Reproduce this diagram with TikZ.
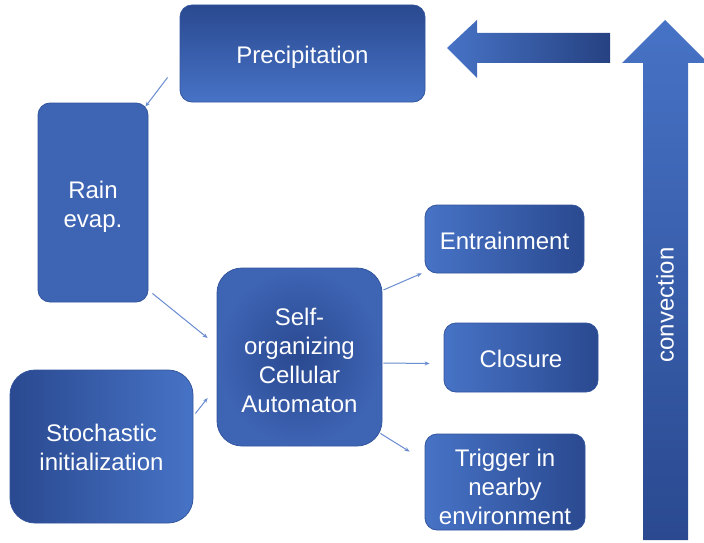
\documentclass[tikz,border=0pt]{standalone}
\usepackage{fontspec}
\setmainfont{Liberation Sans}
\usetikzlibrary{arrows.meta}
\definecolor{bluemid}{HTML}{3E64B4}
\definecolor{bluedark}{HTML}{2A4990}
\definecolor{bluelight}{HTML}{4773C6}
\definecolor{blueedge}{HTML}{33559E}
\definecolor{connblue}{HTML}{6A8CD0}
\tikzset{
  box/.style={rectangle, rounded corners=#1, draw=blueedge, line width=0.8pt, inner sep=0pt},
  box/.default=12pt,
  txt/.style={text=white, align=center, inner sep=0pt, font=\fontsize{24}{29}\selectfont},
  conn/.style={draw=connblue, line width=1pt, -{Stealth[length=5pt,width=4pt]}},
}
\begin{document}
\begin{tikzpicture}[x=1pt,y=-1pt]
\useasboundingbox (0,0) rectangle (704,543);
\fill[white] (0,0) rectangle (704,543);

% big arrows
\begin{scope}
\clip (0,0) rectangle (704,543);
\shade[left color=bluelight, right color=bluedark!90!black]
  (610,33) -- (477,33) -- (477,20) -- (447,48) -- (477,78) -- (477,63) -- (610,63) -- cycle;
\shade[top color=bluelight, bottom color=bluedark]
  (643,540) -- (643,63) -- (622,63) -- (665,20) -- (708,63) -- (688,63) -- (688,540) -- cycle;
\end{scope}
\node[txt, rotate=90] (conv) at (665,305) {convection};

% boxes
\node[box, minimum width=245pt, minimum height=97pt, top color=bluedark, bottom color=bluelight] (prec) at (302.5,53.5) {};
\node[box, minimum width=110pt, minimum height=199pt, fill=bluemid] (rain) at (93,202.5) {};
\node[box=25pt, minimum width=165pt, minimum height=178pt, inner color=bluedark, outer color=bluemid] (soca) at (299.5,357) {};
\node[box=25pt, minimum width=183pt, minimum height=153pt, left color=bluedark, right color=bluelight] (stoch) at (101.5,446.5) {};
\node[box, minimum width=159pt, minimum height=68pt, left color=bluelight, right color=bluedark] (entr) at (504.5,239) {};
\node[box, minimum width=154pt, minimum height=69pt, left color=bluelight, right color=bluedark] (clos) at (521,357.5) {};
\node[box, minimum width=160pt, minimum height=96pt, left color=bluelight, right color=bluedark] (trig) at (505,482) {};

% texts
\node[txt] (precT) at ([yshift=-4pt]prec.center) {Precipitation};
\node[txt] (rainT) at ([yshift=-4pt]rain.center) {Rain\\evap.};
\node[txt] (socaT) at ([yshift=-3pt]soca.center) {Self-\\organizing\\Cellular\\Automaton};
\node[txt] (stochT) at ([yshift=-1pt]stoch.center) {Stochastic\\initialization};
\node[txt] (entrT) at ([yshift=-2pt]entr.center) {Entrainment};
\node[txt] (closT) at ([yshift=-1pt]clos.center) {Closure};
\node[txt] (trigT) at ([yshift=-5pt]trig.center) {Trigger in\\nearby\\environment};

% connectors
\draw[conn] ([shift={(-12,-25)}]prec.south west) -- ([shift={(-3,4)}]rain.north east);
\draw[conn] ([shift={(4,-9)}]rain.south east) -- ([shift={(-9,-19)}]soca.west);
\draw[conn] ([shift={(2,-33)}]stoch.east) -- ([shift={(-9,41)}]soca.west);
\draw[conn] ([shift={(1,-67)}]soca.east) -- ([shift={(-3,0)}]entr.south west);
\draw[conn] ([shift={(1,6)}]soca.east) -- ([shift={(-14,6)}]clos.west);
\draw[conn] ([shift={(-2,-13)}]soca.south east) -- ([shift={(-15,18)}]trig.north west);
\end{tikzpicture}
\end{document}
